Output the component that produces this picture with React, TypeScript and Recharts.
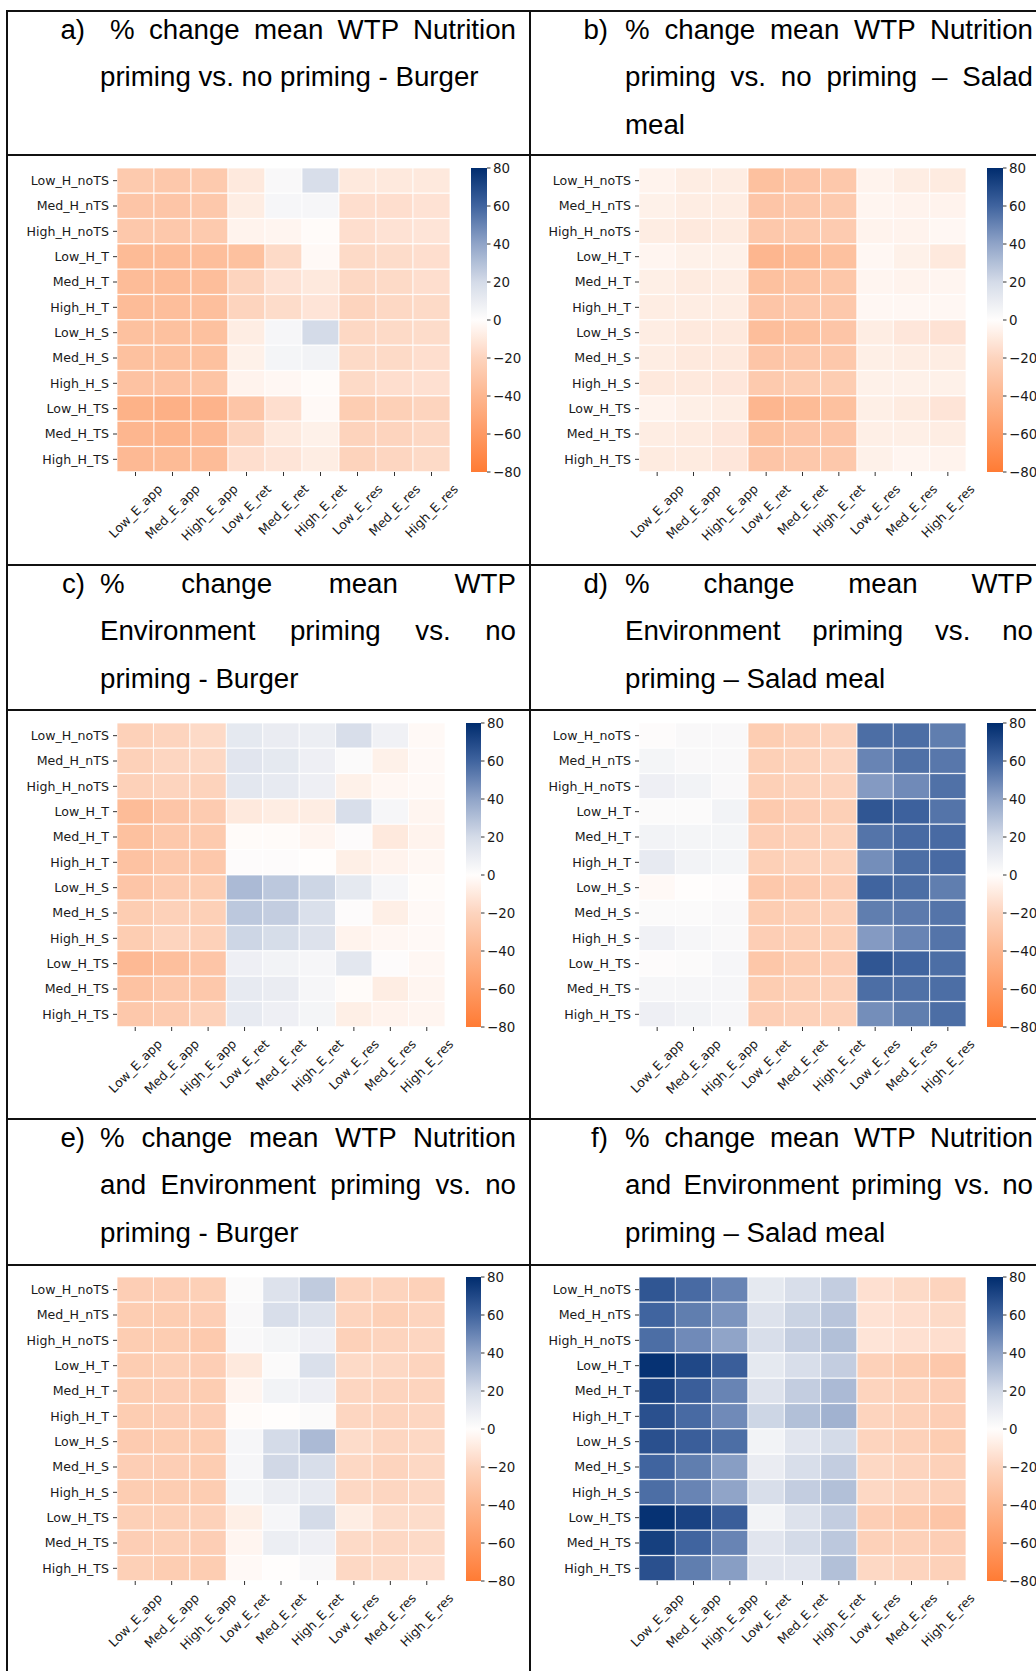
import React from 'react';
import { BarChart, Bar, XAxis, YAxis, Cell } from 'recharts';

// ---------- categories / ticks ----------
const ROWS = ['Low_H_noTS', 'Med_H_nTS', 'High_H_noTS', 'Low_H_T', 'Med_H_T', 'High_H_T', 'Low_H_S', 'Med_H_S', 'High_H_S', 'Low_H_TS', 'Med_H_TS', 'High_H_TS'];
const COLS = ['Low_E_app', 'Med_E_app', 'High_E_app', 'Low_E_ret', 'Med_E_ret', 'High_E_ret', 'Low_E_res', 'Med_E_res', 'High_E_res'];
const CBAR_TICKS = [-80, -60, -40, -20, 0, 20, 40, 60, 80];

// ---------- colour map ----------
const CMAP_STOPS = [-80, -60, -40, -20, 0, 20, 40, 60, 80];
const CMAP_COLORS = ['#ff7b34', '#fe9963', '#fdb68f', '#fdd4be', '#fffdfc', '#d4dbe8', '#90a4c8', '#40649f', '#002c6e'];

// ---------- values (% change mean WTP), rows x cols ----------
const nutritionBurger = [
  [-27, -28, -27, -10, 3, 18, -10, -10, -10],
  [-30, -30, -28, -8, 4, 4, -15, -15, -13],
  [-28, -28, -27, -5, -4, -1, -15, -13, -12],
  [-37, -36, -35, -33, -17, -2, -17, -16, -15],
  [-36, -36, -35, -20, -13, -10, -18, -17, -15],
  [-36, -35, -34, -20, -16, -12, -20, -18, -17],
  [-33, -33, -33, -8, 4, 20, -18, -17, -16],
  [-33, -33, -33, -6, 5, 6, -17, -17, -15],
  [-32, -32, -31, -5, -3, -1, -17, -15, -14],
  [-43, -44, -42, -30, -15, -2, -25, -23, -20],
  [-40, -41, -38, -20, -10, -6, -21, -20, -18],
  [-38, -37, -36, -15, -12, -8, -21, -19, -17],
];
const nutritionSalad = [
  [-5, -8, -8, -33, -30, -28, -5, -8, -9],
  [-6, -8, -8, -30, -28, -27, -4, -5, -5],
  [-8, -10, -9, -28, -27, -26, -5, -5, -3],
  [-4, -6, -6, -40, -37, -33, -3, -6, -10],
  [-7, -9, -8, -33, -31, -29, -4, -5, -4],
  [-8, -8, -8, -30, -28, -28, -3, -3, -3],
  [-8, -10, -10, -35, -33, -30, -8, -11, -13],
  [-8, -10, -10, -30, -28, -28, -7, -8, -8],
  [-10, -10, -11, -27, -25, -25, -6, -6, -6],
  [-5, -7, -8, -40, -37, -33, -7, -9, -12],
  [-8, -9, -11, -33, -30, -30, -7, -7, -8],
  [-9, -9, -11, -30, -28, -28, -6, -4, -5],
];
const environmentBurger = [
  [-22, -20, -17, 12, 10, 9, 18, 7, -2],
  [-22, -19, -18, 14, 12, 8, 2, -6, -2],
  [-22, -20, -21, 13, 11, 8, -6, -3, -2],
  [-36, -30, -26, -10, -8, -8, 18, 4, -4],
  [-33, -28, -27, -1, -1, -4, 1, -10, -5],
  [-32, -28, -28, 1, 1, 0, -7, -5, -3],
  [-30, -26, -25, 32, 27, 22, 12, 4, -1],
  [-25, -22, -23, 27, 25, 17, 1, -7, -2],
  [-25, -20, -22, 22, 19, 16, -5, -3, -2],
  [-38, -34, -30, 8, 6, 4, 13, 1, -3],
  [-32, -28, -28, 11, 10, 4, -1, -8, -4],
  [-28, -26, -22, 11, 8, 5, -7, -5, -4],
];
const environmentSalad = [
  [1, 3, 3, -25, -22, -20, 57, 57, 52],
  [5, 3, 3, -23, -21, -19, 50, 56, 54],
  [8, 6, 3, -23, -21, -20, 43, 48, 56],
  [2, 2, 6, -27, -24, -23, 65, 61, 55],
  [6, 5, 5, -24, -22, -21, 55, 58, 58],
  [11, 6, 5, -23, -21, -21, 47, 57, 58],
  [-2, 0, 1, -28, -26, -24, 60, 57, 52],
  [2, 2, 3, -25, -23, -22, 52, 53, 55],
  [7, 4, 3, -24, -23, -23, 43, 50, 55],
  [1, 2, 4, -29, -25, -24, 65, 60, 57],
  [4, 4, 4, -25, -23, -22, 57, 56, 57],
  [8, 6, 4, -24, -22, -22, 47, 52, 57],
];
const bothBurger = [
  [-24, -24, -23, 2, 16, 26, -20, -20, -22],
  [-25, -25, -24, 3, 18, 16, -20, -23, -20],
  [-25, -25, -27, 3, 5, 8, -22, -20, -19],
  [-25, -23, -24, -10, 2, 17, -17, -18, -20],
  [-25, -24, -25, -4, 6, 8, -19, -20, -20],
  [-25, -24, -24, -1, 0, 2, -19, -20, -19],
  [-26, -25, -25, 4, 20, 32, -16, -19, -18],
  [-24, -24, -25, 4, 21, 18, -18, -20, -18],
  [-25, -25, -25, 5, 9, 11, -18, -19, -18],
  [-23, -23, -22, -7, 4, 20, -8, -16, -16],
  [-24, -23, -24, -4, 9, 8, -17, -18, -17],
  [-23, -25, -25, -2, 0, 3, -18, -17, -15],
];
const bothSalad = [
  [65, 58, 50, 12, 18, 25, -14, -17, -20],
  [60, 52, 45, 16, 23, 28, -13, -15, -17],
  [57, 48, 40, 18, 25, 30, -12, -14, -15],
  [78, 70, 62, 12, 18, 25, -22, -25, -28],
  [72, 62, 50, 16, 25, 32, -20, -22, -24],
  [67, 58, 48, 22, 30, 35, -20, -22, -24],
  [67, 62, 57, 6, 14, 20, -20, -22, -25],
  [60, 52, 42, 10, 18, 25, -18, -20, -22],
  [57, 50, 40, 18, 25, 30, -18, -20, -22],
  [78, 72, 62, 6, 16, 25, -24, -27, -30],
  [73, 60, 50, 14, 20, 27, -22, -22, -24],
  [67, 52, 42, 14, 14, 30, -18, -20, -22],
];

// ---------- titles ----------
const TITLE_LABELS = ['a)', 'b)', 'c)', 'd)', 'e)', 'f)'];
const TITLE_LINES = [
  ['% change mean WTP Nutrition', 'priming vs. no priming - Burger'],
  ['% change mean WTP Nutrition', 'priming vs. no priming \u2013 Salad', 'meal'],
  ['% change mean WTP', 'Environment priming vs. no', 'priming - Burger'],
  ['% change mean WTP', 'Environment priming vs. no', 'priming \u2013 Salad meal'],
  ['% change mean WTP Nutrition', 'and Environment priming vs. no', 'priming - Burger'],
  ['% change mean WTP Nutrition', 'and Environment priming vs. no', 'priming \u2013 Salad meal'],
];

// ---------- helpers ----------
function hexToRgb(h: string) {
  const n = parseInt(h.slice(1), 16);
  return [(n >> 16) & 255, (n >> 8) & 255, n & 255];
}
function colorFor(v: number) {
  const x = Math.max(CMAP_STOPS[0], Math.min(CMAP_STOPS[CMAP_STOPS.length - 1], v));
  let k = 0;
  while (k < CMAP_STOPS.length - 2 && x > CMAP_STOPS[k + 1]) k++;
  const t = (x - CMAP_STOPS[k]) / (CMAP_STOPS[k + 1] - CMAP_STOPS[k]);
  const a = hexToRgb(CMAP_COLORS[k]);
  const b = hexToRgb(CMAP_COLORS[k + 1]);
  const c = a.map((av, i) => Math.round(av + (b[i] - av) * t));
  return `rgb(${c[0]},${c[1]},${c[2]})`;
}

const CHAR_W: Record<string, number> = {
  L: 1141, o: 1253, w: 1675, _: 1024, E: 1294, a: 1255, p: 1300, M: 1767, e: 1260, d: 1300,
  H: 1540, i: 569, g: 1300, h: 1298, r: 842, t: 803, s: 1067, n: 1298, T: 1251, S: 1300,
};
function textWidth(s: string, fs: number) {
  let t = 0;
  for (const ch of s) t += CHAR_W[ch] ?? 1250;
  return (t / 2048) * fs;
}

const FS = 12.6;
const CB_FS = 13.4;
const LABEL_FILL = '#1a1a1a';
const TICK_FONT = 'DejaVu Sans';

function XTick(props: any) {
  const { x, y, payload } = props;
  const label = COLS[Math.floor(payload.value)];
  const w = textWidth(label, FS);
  const cy = y + 3 + 0.7071 * (w / 2 + 0.4 * FS);
  return (
    <text x={x} y={cy} textAnchor="middle" dominantBaseline="central" transform={`rotate(-45 ${x} ${cy})`}
      fontSize={FS} fontFamily={TICK_FONT} fill={LABEL_FILL}>{label}</text>
  );
}

type Rect = { x: number; y: number; w: number; h: number };

function Heatmap({ values, plot }: { values: number[][]; plot: Rect }) {
  const yAxisW = 112;
  const topM = 10;
  const rightM = 30;
  const xAxisH = 95;
  const data = ROWS.map((r) => {
    const o: any = { row: r };
    COLS.forEach((_, j) => { o['u' + j] = 1; });
    return o;
  });
  const xTicks = COLS.map((_, j) => j + 0.5);
  return (
    <div style={{ position: 'absolute', left: plot.x - yAxisW, top: plot.y - topM }}>
      <BarChart width={yAxisW + plot.w + rightM} height={topM + plot.h + xAxisH} data={data} layout="vertical"
        margin={{ top: topM, right: rightM, left: 0, bottom: 0 }} barCategoryGap={0} barGap={0}>
        <XAxis type="number" domain={[0, COLS.length]} ticks={xTicks} interval={0} height={xAxisH}
          tickSize={4} tickMargin={4} axisLine={false} tickLine={{ stroke: '#333' }} tick={<XTick />} />
        <YAxis type="category" dataKey="row" width={yAxisW} interval={0} tickSize={4} tickMargin={4}
          axisLine={false} tickLine={{ stroke: '#333' }}
          tick={{ fontSize: FS, fill: LABEL_FILL, fontFamily: TICK_FONT }} />
        {COLS.map((c, j) => (
          <Bar key={c} dataKey={'u' + j} stackId="s" isAnimationActive={false}>
            {ROWS.map((r, i) => (
              <Cell key={r} fill={colorFor(values[i][j])} stroke="#ffffff" strokeWidth={0.8} />
            ))}
          </Bar>
        ))}
      </BarChart>
    </div>
  );
}

function Colorbar({ rect }: { rect: Rect }) {
  const topM = 10;
  const bottomM = 10;
  const axisW = 50;
  const data = [{ name: 'cb', range: [CBAR_TICKS[0], CBAR_TICKS[CBAR_TICKS.length - 1]] }];
  return (
    <div style={{ position: 'absolute', left: rect.x, top: rect.y - topM }}>
      <BarChart width={rect.w + axisW} height={rect.h + topM + bottomM} data={data}
        margin={{ top: topM, bottom: bottomM, left: 0, right: 0 }} barCategoryGap={0}>
        <XAxis dataKey="name" hide />
        <YAxis orientation="right" type="number" domain={[-80, 80]} ticks={CBAR_TICKS} interval={0} width={axisW}
          axisLine={false} tickSize={3.5} tickMargin={2.5} tickLine={{ stroke: '#333' }}
          tickFormatter={(v: number) => (v < 0 ? '\u2212' + Math.abs(v) : String(v))}
          tick={{ fontSize: CB_FS, fill: LABEL_FILL, fontFamily: TICK_FONT }} />
        <Bar dataKey="range" fill="url(#cbgrad)" isAnimationActive={false} />
      </BarChart>
    </div>
  );
}

function Title({ idx, cellX, cellTop, textLeft, textRight, firstIndent }: any) {
  const lines = TITLE_LINES[idx];
  const lh = 47.6;
  const off = -5.5;
  const fontStyle: React.CSSProperties = {
    fontFamily: '"Liberation Sans", Arial, sans-serif', fontSize: 27.7, lineHeight: lh + 'px', color: '#000',
    whiteSpace: 'nowrap',
  };
  return (
    <>
      <div style={{ ...fontStyle, position: 'absolute', left: cellX, width: 78, textAlign: 'right', top: cellTop + off, height: lh }}>
        {TITLE_LABELS[idx]}
      </div>
      {lines.map((ln: string, i: number) => {
        const last = i === lines.length - 1;
        const left = textLeft + (i === 0 ? firstIndent : 0);
        return (
          <div key={i} style={{
            ...fontStyle, position: 'absolute', left, width: textRight - left, top: cellTop + off + i * lh, height: lh,
            whiteSpace: last ? 'nowrap' : 'normal', textAlign: last ? 'left' : 'justify',
            textAlignLast: last ? 'left' : 'justify', overflow: 'visible',
          }}>{ln}</div>
        );
      })}
    </>
  );
}

const HLINES = [11, 155, 565, 710, 1119, 1265];
const VLINES = [7, 530];

export default function App() {
  const gradStops = [];
  for (let k = 0; k <= 32; k++) {
    const v = 80 - k * 5;
    gradStops.push(<stop key={k} offset={k / 32} stopColor={colorFor(v)} />);
  }
  const rowTops = [11, 565, 1119];
  const plotY = [168, 723, 1277];
  const plotH = 304;
  const panels = [
    { vals: nutritionBurger, plot: { x: 117, w: 333 }, cb: { x: 471, w: 16 } },
    { vals: nutritionSalad, plot: { x: 639, w: 327 }, cb: { x: 987, w: 16 } },
    { vals: environmentBurger, plot: { x: 117, w: 328 }, cb: { x: 466, w: 15 } },
    { vals: environmentSalad, plot: { x: 639, w: 327 }, cb: { x: 987, w: 16 } },
    { vals: bothBurger, plot: { x: 117, w: 328 }, cb: { x: 466, w: 15 } },
    { vals: bothSalad, plot: { x: 639, w: 327 }, cb: { x: 987, w: 16 } },
  ];
  return (
    <div style={{ position: 'absolute', left: 0, top: 0, width: 1036, height: 1671, overflow: 'hidden', background: '#fff' }}>
      <svg width={0} height={0} style={{ position: 'absolute' }}>
        <defs>
          <linearGradient id="cbgrad" x1="0" y1="0" x2="0" y2="1">{gradStops}</linearGradient>
        </defs>
      </svg>
      {HLINES.map((y) => (
        <div key={'h' + y} style={{ position: 'absolute', left: 6, top: y - 0.75, width: 1040, height: 1.5, background: '#111' }} />
      ))}
      {VLINES.map((x) => (
        <div key={'v' + x} style={{ position: 'absolute', left: x - 0.75, top: 10, width: 1.5, height: 1680, background: '#111' }} />
      ))}
      {panels.map((p, i) => {
        const r = Math.floor(i / 2);
        const left = i % 2 === 0;
        return (
          <React.Fragment key={i}>
            <Title idx={i} cellX={left ? 7 : 530} cellTop={rowTops[r]}
              textLeft={left ? 100 : 625} textRight={left ? 516 : 1033} firstIndent={i === 0 ? 10 : 0} />
            <Heatmap values={p.vals} plot={{ x: p.plot.x, y: plotY[r], w: p.plot.w, h: plotH }} />
            <Colorbar rect={{ x: p.cb.x, y: plotY[r], w: p.cb.w, h: plotH }} />
          </React.Fragment>
        );
      })}
    </div>
  );
}
